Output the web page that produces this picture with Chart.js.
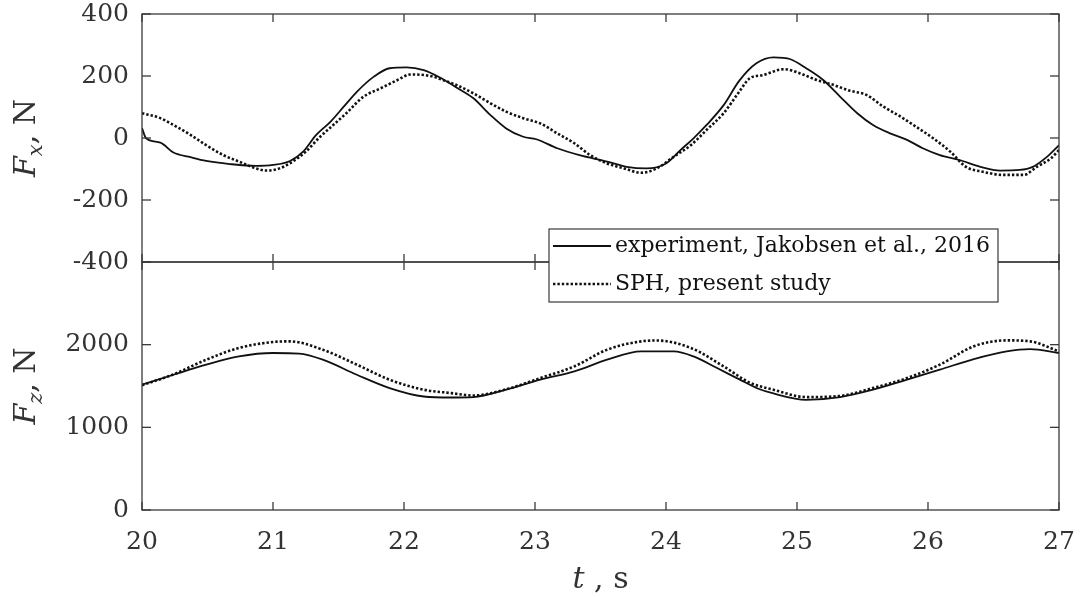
<!DOCTYPE html>
<html>
<head>
<meta charset="utf-8">
<script src="https://cdn.jsdelivr.net/npm/chart.js@4.4.0/dist/chart.umd.min.js"></script>
<style>
  html, body { margin: 0; background: #fff; }
</style>
</head>
<body>
<canvas id="forces" width="1080" height="597"></canvas>
<script>
// horizontal force, experiment
const tFxExp = [20.0, 20.03, 20.14, 20.24, 20.37, 20.49, 20.67, 20.87, 21.0, 21.13, 21.23, 21.33, 21.44, 21.54, 21.64, 21.77, 21.89, 22.02, 22.15, 22.27, 22.4, 22.53, 22.66, 22.78, 22.91, 23.01, 23.17, 23.34, 23.55, 23.7, 23.85, 24.0, 24.11, 24.21, 24.31, 24.44, 24.56, 24.69, 24.82, 24.95, 25.07, 25.2, 25.33, 25.46, 25.58, 25.71, 25.84, 25.96, 26.09, 26.24, 26.4, 26.55, 26.7, 26.8, 26.91, 27.0]
const fxExp = [32, 0, -15, -47, -62, -74, -84, -90, -87, -74, -44, 10, 53, 101, 149, 198, 225, 228, 219, 196, 163, 128, 74, 31, 4, -4, -33, -55, -76, -93, -98, -82, -39, -1, 42, 106, 185, 241, 260, 254, 225, 187, 133, 80, 42, 15, -6, -33, -55, -71, -93, -105, -103, -93, -60, -23]
// horizontal force, SPH
const tFxSph = [20.0, 20.14, 20.24, 20.37, 20.49, 20.62, 20.74, 20.87, 20.95, 21.05, 21.15, 21.25, 21.36, 21.46, 21.56, 21.69, 21.82, 21.95, 22.05, 22.2, 22.33, 22.4, 22.53, 22.66, 22.78, 22.91, 23.04, 23.17, 23.3, 23.42, 23.55, 23.68, 23.81, 23.93, 24.06, 24.19, 24.31, 24.44, 24.56, 24.64, 24.74, 24.9, 25.02, 25.15, 25.28, 25.4, 25.53, 25.66, 25.79, 25.91, 26.04, 26.17, 26.29, 26.42, 26.57, 26.73, 26.83, 26.94, 27.0]
const fxSph = [80, 64, 42, 10, -23, -55, -76, -98, -105, -98, -76, -44, 4, 42, 80, 133, 160, 187, 205, 200, 182, 171, 144, 112, 85, 64, 47, 15, -17, -55, -82, -98, -112, -98, -60, -23, 26, 80, 150, 193, 203, 222, 209, 187, 171, 153, 139, 101, 69, 36, -1, -44, -93, -109, -119, -119, -93, -65, -39]
// vertical force, experiment
const tFzExp = [20.0, 20.24, 20.49, 20.74, 21.0, 21.2, 21.38, 21.64, 21.89, 22.15, 22.36, 22.53, 22.78, 23.04, 23.3, 23.55, 23.81, 24.06, 24.21, 24.39, 24.56, 24.7, 24.82, 25.07, 25.33, 25.58, 25.84, 26.09, 26.35, 26.6, 26.78, 27.0]
const fzExp = [1515, 1636, 1758, 1858, 1899, 1891, 1818, 1636, 1475, 1373, 1361, 1366, 1455, 1576, 1677, 1818, 1919, 1919, 1858, 1717, 1580, 1470, 1410, 1333, 1366, 1455, 1576, 1697, 1826, 1919, 1947, 1899]
// vertical force, SPH
const tFzSph = [20.0, 20.24, 20.49, 20.74, 21.0, 21.13, 21.38, 21.64, 21.89, 22.15, 22.36, 22.53, 22.78, 23.04, 23.3, 23.55, 23.81, 23.93, 24.19, 24.44, 24.64, 24.82, 25.07, 25.33, 25.58, 25.84, 26.09, 26.35, 26.6, 26.78, 27.0]
const fzSph = [1510, 1640, 1818, 1960, 2032, 2040, 1939, 1758, 1576, 1455, 1414, 1385, 1460, 1596, 1737, 1939, 2040, 2050, 1960, 1737, 1540, 1455, 1366, 1380, 1475, 1596, 1758, 1980, 2052, 2040, 1919]

const seriesLabels = ['experiment, Jakobsen et al., 2016', 'SPH, present study']

const ink = '#111'
const frameColor = '#3a3a3a'
const textColor = '#333'
const serif = 'DejaVu Serif'
const dots = [2.4, 2]

const pts = (ts, vs) => ts.map((t, i) => ({x: t, y: vs[i]}))

const lineStyle = (dashed) => ({
    borderColor: ink,
    borderWidth: dashed ? 2.6 : 1.8,
    borderDash: dashed ? dots : [],
    pointRadius: 0,
    cubicInterpolationMode: 'monotone',
    fill: false
})

// box around each panel + inward ticks on all four sides
const framePlugin = {
    id: 'frame',
    afterDatasetsDraw(chart) {
        const ctx = chart.ctx, ca = chart.chartArea, xs = chart.scales.x
        const seg = (x1, y1, x2, y2) => { ctx.beginPath(); ctx.moveTo(x1, y1); ctx.lineTo(x2, y2); ctx.stroke() }
        ctx.save()
        ctx.strokeStyle = frameColor
        ctx.lineWidth = 1.3
        ;['yFx', 'yFz'].forEach(id => {
            const s = chart.scales[id]
            ctx.strokeRect(ca.left, s.top, ca.right - ca.left, s.bottom - s.top)
            s.ticks.forEach(tk => {
                const py = s.getPixelForValue(tk.value)
                seg(ca.left, py, ca.left + 9, py)
                seg(ca.right, py, ca.right - 9, py)
            })
            xs.ticks.forEach(tk => {
                const px = xs.getPixelForValue(tk.value)
                seg(px, s.top, px, s.top + 8)
                seg(px, s.bottom, px, s.bottom - 8)
            })
        })
        ctx.restore()
    }
}

// legend box over the panel boundary, axis titles with subscripts
const annotatePlugin = {
    id: 'annotate',
    afterDraw(chart) {
        const ctx = chart.ctx, ca = chart.chartArea
        const yFx = chart.scales.yFx, yFz = chart.scales.yFz
        ctx.save()
        // legend
        const bx = 549, by = 229, bw = 449, bh = 73
        ctx.fillStyle = '#fff'
        ctx.fillRect(bx, by, bw, bh)
        ctx.strokeStyle = frameColor
        ctx.lineWidth = 1.2
        ctx.strokeRect(bx, by, bw, bh)
        ctx.font = '22px "' + serif + '"'
        ctx.textBaseline = 'middle'
        ctx.fillStyle = ink
        chart.data.datasets.slice(0, 2).forEach((ds, i) => {
            const ly = by + 17 + i * 38
            ctx.strokeStyle = ink
            ctx.lineWidth = ds.borderWidth
            ctx.setLineDash(ds.borderDash)
            ctx.beginPath(); ctx.moveTo(bx + 4, ly); ctx.lineTo(bx + 62, ly); ctx.stroke()
            ctx.setLineDash([])
            ctx.fillText(ds.label, bx + 66, ly)
        })
        // y titles
        const yTitle = (sub, cy) => {
            ctx.save()
            ctx.translate(35, cy)
            ctx.rotate(-Math.PI / 2)
            ctx.fillStyle = textColor
            ctx.textBaseline = 'alphabetic'
            const big = 'italic 30px "' + serif + '"'
            const small = 'italic 21px "' + serif + '"'
            const rest = '30px "' + serif + '"'
            ctx.font = big; const wF = ctx.measureText('F').width
            ctx.font = small; const wS = ctx.measureText(sub).width
            ctx.font = rest; const wR = ctx.measureText(', N').width
            let x0 = -(wF + wS + wR) / 2
            ctx.font = big; ctx.fillText('F', x0, 0); x0 += wF
            ctx.font = small; ctx.fillText(sub, x0, 7); x0 += wS
            ctx.font = rest; ctx.fillText(', N', x0, 0)
            ctx.restore()
        }
        yTitle('x', (yFx.top + yFx.bottom) / 2)
        yTitle('z', (yFz.top + yFz.bottom) / 2)
        // x title
        ctx.fillStyle = textColor
        ctx.textBaseline = 'alphabetic'
        ctx.font = 'italic 30px "' + serif + '"'
        const wt = ctx.measureText('t').width
        ctx.font = '30px "' + serif + '"'
        const wr = ctx.measureText(' , s').width
        let xt = (ca.left + ca.right) / 2 - (wt + wr) / 2
        ctx.font = 'italic 30px "' + serif + '"'
        ctx.fillText('t', xt, 588)
        ctx.font = '30px "' + serif + '"'
        ctx.fillText(' , s', xt + wt, 588)
        ctx.restore()
    }
}

const tickFont = {family: serif, size: 25}

// keep the plot box fixed: no extra room for edge labels
const fitY = s => { s.width = 142; s.paddingTop = 0; s.paddingBottom = 0 }
const fitX = s => { s.height = 87; s.paddingLeft = 0; s.paddingRight = 0 }

new Chart(document.getElementById('forces'), {
    type: 'line',
    data: {
        datasets: [
            {label: seriesLabels[0], data: pts(tFxExp, fxExp), yAxisID: 'yFx', ...lineStyle(false)},
            {label: seriesLabels[1], data: pts(tFxSph, fxSph), yAxisID: 'yFx', ...lineStyle(true)},
            {label: seriesLabels[0], data: pts(tFzExp, fzExp), yAxisID: 'yFz', ...lineStyle(false)},
            {label: seriesLabels[1], data: pts(tFzSph, fzSph), yAxisID: 'yFz', ...lineStyle(true)}
        ]
    },
    options: {
        responsive: false,
        animation: false,
        layout: {padding: {top: 14, right: 21, left: 0, bottom: 0}},
        plugins: {legend: {display: false}, tooltip: {enabled: false}},
        scales: {
            x: {
                type: 'linear', min: 20, max: 27,
                ticks: {stepSize: 1, color: textColor, font: tickFont, padding: 17, callback: v => String(v)},
                grid: {display: false, drawTicks: false},
                border: {display: false},
                afterFit: fitX
            },
            // stacked scales are laid out bottom-up in definition order
            yFz: {
                type: 'linear', position: 'left', stack: 'panels', stackWeight: 1,
                min: 0, max: 3000,
                ticks: {stepSize: 1000, color: textColor, font: tickFont, padding: 13, callback: v => v === 3000 ? '' : String(v)},
                grid: {display: false, drawTicks: false},
                border: {display: false},
                afterFit: fitY
            },
            yFx: {
                type: 'linear', position: 'left', stack: 'panels', stackWeight: 1,
                min: -400, max: 400,
                ticks: {stepSize: 200, color: textColor, font: tickFont, padding: 13, callback: v => String(v)},
                grid: {display: false, drawTicks: false},
                border: {display: false},
                afterFit: fitY
            }
        }
    },
    plugins: [framePlugin, annotatePlugin]
})
</script>
</body>
</html>
